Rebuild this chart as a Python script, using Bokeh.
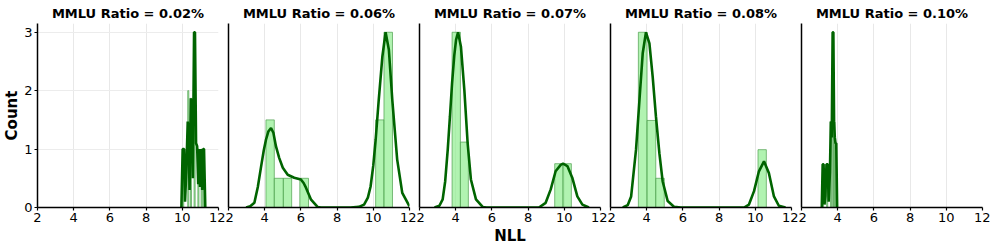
from bokeh.plotting import figure
from bokeh.layouts import row
from bokeh.models import FixedTicker, Range1d
from bokeh.embed import file_html
from bokeh.resources import INLINE

titles = ["MMLU Ratio = 0.02%", "MMLU Ratio = 0.06%", "MMLU Ratio = 0.07%",
          "MMLU Ratio = 0.08%", "MMLU Ratio = 0.10%"]
x_ticks = [2, 4, 6, 8, 10, 12]
y_ticks = [0, 1, 2, 3]

# histogram bars (left edge, right edge, height) per panel
bar_left_1 = [10.02, 10.30, 10.45, 10.65, 10.86, 11.04, 11.15]
bar_right_1 = [10.08, 10.36, 10.51, 10.71, 10.92, 11.10, 11.21]
bar_top_1 = [1.0, 2.0, 1.87, 3.0, 1.0, 1.0, 1.0]

bar_left_2 = [4.07, 4.53, 5.03, 5.94, 10.13, 10.59]
bar_right_2 = [4.53, 5.03, 5.49, 6.42, 10.59, 11.06]
bar_top_2 = [1.5, 0.5, 0.5, 0.5, 1.5, 3.0]

bar_left_3 = [3.80, 4.26, 9.47, 9.93]
bar_right_3 = [4.26, 4.70, 9.93, 10.39]
bar_top_3 = [3.0, 1.12, 0.75, 0.75]

bar_left_4 = [3.54, 4.02, 4.50, 10.15]
bar_right_4 = [4.02, 4.50, 4.97, 10.61]
bar_top_4 = [3.0, 1.49, 0.5, 0.99]

bar_left_5 = [3.17, 3.39, 3.60, 3.72, 3.80, 3.87]
bar_right_5 = [3.22, 3.45, 3.66, 3.77, 3.85, 3.93]
bar_top_5 = [0.74, 0.74, 1.47, 3.0, 1.47, 1.1]

# density curves
kde_x_1 = [9.95, 10.02, 10.10, 10.15, 10.22, 10.30, 10.35, 10.40, 10.47, 10.52, 10.58,
           10.65, 10.70, 10.76, 10.82, 10.88, 10.93, 10.98, 11.03, 11.10, 11.15, 11.20, 11.27]
kde_y_1 = [0.0, 1.0, 1.0, 0.1, 0.6, 1.47, 1.2, 0.3, 1.87, 1.6, 0.5,
           3.0, 3.0, 1.1, 1.05, 0.4, 1.0, 0.35, 1.0, 0.3, 1.0, 1.0, 0.0]

kde_x_2 = [2.97, 3.20, 3.43, 3.62, 3.80, 3.95, 4.07, 4.20, 4.35, 4.48, 4.62, 4.80, 5.00,
           5.27, 5.63, 6.00, 6.15, 6.28, 6.55, 6.92, 7.10, 8.75, 9.20, 9.49, 9.70, 9.85,
           10.00, 10.13, 10.30, 10.50, 10.68, 10.86, 11.05, 11.32, 11.60, 12.00]
kde_y_2 = [0.0, 0.02, 0.08, 0.35, 0.70, 0.98, 1.16, 1.30, 1.36, 1.28, 1.05, 0.85, 0.68,
           0.56, 0.51, 0.48, 0.42, 0.34, 0.14, 0.01, 0.0, 0.0, 0.01, 0.05, 0.17, 0.36,
           0.72, 1.16, 1.84, 2.58, 3.0, 2.7, 1.84, 0.82, 0.25, 0.02]

kde_x_3 = [2.83, 3.10, 3.28, 3.42, 3.56, 3.68, 3.80, 3.92, 4.02, 4.13, 4.29, 4.48, 4.66,
           4.84, 5.12, 5.49, 5.70, 8.60, 8.97, 9.25, 9.52, 9.80, 9.93, 10.17, 10.44,
           10.72, 11.00, 11.36]
kde_y_3 = [0.0, 0.03, 0.14, 0.45, 0.99, 1.55, 2.13, 2.60, 2.87, 3.0, 2.75, 2.0, 1.1,
           0.48, 0.14, 0.01, 0.0, 0.0, 0.08, 0.31, 0.62, 0.73, 0.75, 0.71, 0.51,
           0.19, 0.05, 0.0]

kde_x_4 = [2.68, 2.95, 3.14, 3.41, 3.60, 3.78, 3.96, 4.15, 4.33, 4.51, 4.70, 4.88,
           5.16, 5.52, 5.89, 9.38, 9.65, 9.93, 10.20, 10.48, 10.75, 11.03, 11.30, 11.67]
kde_y_4 = [0.0, 0.04, 0.19, 0.99, 1.84, 2.64, 3.0, 2.81, 2.24, 1.56, 0.93, 0.45,
           0.11, 0.01, 0.0, 0.0, 0.05, 0.28, 0.62, 0.79, 0.59, 0.19, 0.03, 0.0]

kde_x_5 = [3.12, 3.17, 3.22, 3.27, 3.32, 3.38, 3.45, 3.50, 3.57, 3.62, 3.67, 3.72,
           3.76, 3.80, 3.84, 3.88, 3.92, 3.97]
kde_y_5 = [0.0, 0.74, 0.74, 0.05, 0.2, 0.74, 0.74, 0.1, 0.6, 1.47, 1.2, 3.0,
           3.0, 1.47, 1.2, 1.1, 1.1, 0.0]

bars = [(bar_left_1, bar_right_1, bar_top_1), (bar_left_2, bar_right_2, bar_top_2),
        (bar_left_3, bar_right_3, bar_top_3), (bar_left_4, bar_right_4, bar_top_4),
        (bar_left_5, bar_right_5, bar_top_5)]
kdes = [(kde_x_1, kde_y_1), (kde_x_2, kde_y_2), (kde_x_3, kde_y_3),
        (kde_x_4, kde_y_4), (kde_x_5, kde_y_5)]

FONT = "DejaVu Sans"
FRAME_W = 181
FRAME_H = 184

plots = []
for i in range(5):
    first = i == 0
    p = figure(frame_width=FRAME_W, frame_height=FRAME_H,
               x_range=Range1d(2, 12), y_range=Range1d(0, 3.15),
               output_backend="svg", toolbar_location=None,
               min_border_left=0 if first else 3,
               min_border_right=8 if i == 4 else 7,
               min_border_top=0, min_border_bottom=0)
    p.title.text = titles[i]
    p.title.text_font = FONT
    p.title.text_font_size = "13px"
    p.title.text_font_style = "bold"
    p.title.text_color = "black"
    p.title.align = "center"
    p.title.standoff = 6
    p.outline_line_color = None
    p.background_fill_color = "white"
    p.border_fill_color = "white"

    l, r, t = bars[i]
    p.quad(left=l, right=r, top=t, bottom=0, fill_color="#90ee90", fill_alpha=0.7,
           line_color="#4f9f4f", line_alpha=0.7, line_width=1)
    kx, ky = kdes[i]
    p.line(kx, ky, line_color="#006400", line_width=2.6)

    p.xaxis.ticker = FixedTicker(ticks=x_ticks)
    p.yaxis.ticker = FixedTicker(ticks=y_ticks if first else [])
    for ax in (p.xaxis[0], p.yaxis[0]):
        ax.axis_line_color = "black"
        ax.axis_line_width = 1.5
        ax.major_tick_line_color = "black"
        ax.major_tick_line_width = 1.2
        ax.major_tick_out = 3
        ax.major_tick_in = 0
        ax.minor_tick_line_color = None
        ax.major_label_text_font = FONT
        ax.major_label_text_font_size = "13px"
        ax.major_label_text_color = "black"
        ax.major_label_standoff = 2
        ax.axis_label_text_font = FONT
        ax.axis_label_text_font_style = "bold"
        ax.axis_label_text_font_size = "15px"
        ax.axis_label_text_color = "black"
    p.xgrid.grid_line_color = "#e8e8e8"
    p.xgrid.grid_line_width = 1
    if first:
        p.ygrid.grid_line_color = "#ececec"
        p.yaxis.axis_label = "Count"
        p.yaxis.axis_label_standoff = 0
    else:
        p.ygrid.grid_line_color = None
        p.yaxis.major_tick_out = 0
        p.yaxis.major_label_standoff = 0
    if i == 2:
        p.xaxis.axis_label = "NLL"
        p.xaxis.axis_label_standoff = 2
    plots.append(p)

layout = row(*plots, spacing=0)
open("out.html", "w").write(file_html(layout, INLINE))
